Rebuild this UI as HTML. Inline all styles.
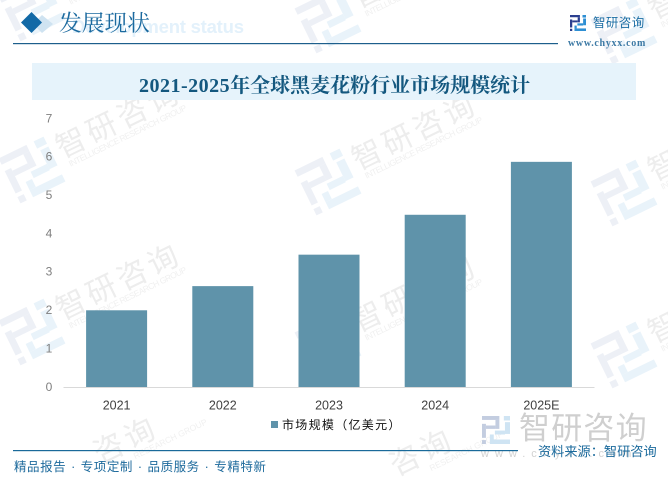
<!DOCTYPE html>
<html lang="zh">
<head>
<meta charset="utf-8">
<title>2021-2025年全球黑麦花粉行业市场规模统计</title>
<style>
html,body{margin:0;padding:0;background:#fff;overflow:hidden}
#page{position:relative;width:668px;height:480px;overflow:hidden;background:#fff;font-family:"Liberation Sans","Noto Sans CJK SC",sans-serif}
#page svg{position:absolute;left:0;top:0}
</style>
</head>
<body>
<div id="page">
<svg id="chart" width="668" height="480" viewBox="0 0 668 480" xmlns="http://www.w3.org/2000/svg">
  <g id="watermarks"></g>

  <g>
    <text x="72" y="33" font-size="18.5" fill="#e3f1fb" font-weight="700" font-family="'Liberation Sans',sans-serif" textLength="172">Development status</text>
    <polygon points="42,15 53,24 42,33 33,24" fill="#cfe3f1"/>
    <polygon points="31.5,12 42,22.5 31.5,33 21,22.5" fill="#1269a6"/>
    <text x="59" y="31" font-size="22.75" fill="#1b6a9f" font-family="'Liberation Serif','Noto Serif CJK SC',serif">发展现状</text>
    <rect x="13" y="43" width="545" height="1.2" fill="#1d5f8c"/>
    <g id="brand-logo"></g>
    <text x="593" y="27" font-size="12.5" fill="#1c6ea4" letter-spacing="0.4">智研咨询</text>
    <text x="568" y="46" font-size="10" fill="#3d7aa5" font-family="'Liberation Serif',serif" font-weight="700" letter-spacing="0.7">www.chyxx.com</text>
  </g>

  <rect x="32" y="63" width="604" height="37" fill="#e6f3fb"/>
  <text x="139" y="92" font-size="20" font-weight="700" fill="#14587f" font-family="'Liberation Serif','Noto Serif CJK SC',serif"><tspan letter-spacing="0.5">2021-2025</tspan>年全球黑麦花粉行业市场规模统计</text>

  <g id="y-axis"></g>
  <g id="bars"></g>
  <g id="x-axis"></g>

  <g>
    <rect x="271" y="421" width="7" height="7" fill="#5f93aa"/>
    <text x="282" y="429" font-size="12" fill="#111" letter-spacing="1.3">市场规模（亿美元）</text>
  </g>

  <g>
    <g id="footer-logo"></g>
    <text x="519" y="439" font-size="31" fill="#cfcfcf" letter-spacing="1.2">智研咨询</text>
    <text x="481" y="457" font-size="11" fill="#d2d2d2" letter-spacing="6">www.chyxx.com</text>
  </g>

  <rect x="13" y="450" width="505" height="1.2" fill="#1a6a9a"/>
  <text x="14" y="471" font-size="12.5" fill="#1d6a9c" letter-spacing="0.55" word-spacing="0.9">精品报告 · 专项定制 · 品质服务 · 专精特新</text>
  <text x="538" y="456" font-size="13.2" fill="#1b6a9c">资料来源：智研咨询</text>
</svg>
</div>
<script>
var categories = ['2021', '2022', '2023', '2024', '2025E'];
var seriesValues = [2.0, 2.63, 3.45, 4.49, 5.87];
var yTickLabels = [0, 1, 2, 3, 4, 5, 6, 7];

var NS = 'http://www.w3.org/2000/svg';
var plotLeft = 63.5, plotRight = 594.5, plotBottom = 387, plotTop = 118.5, yMax = 7;
var barWidth = 61;

function yScale(v) { return plotBottom - (v / yMax) * (plotBottom - plotTop); }
function xCenter(i) { return plotLeft + (plotRight - plotLeft) * (i + 0.5) / categories.length; }
function make(tag, attrs, text) {
  var el = document.createElementNS(NS, tag);
  for (var k in attrs) el.setAttribute(k, attrs[k]);
  if (text !== undefined) el.textContent = text;
  return el;
}

var logoLeft = [[0, 0, 62, 14], [48, 14, 14, 32], [14, 34, 34, 12], [0, 28, 14, 50], [0, 86, 14, 14]];
var logoRight = [[78, 0, 22, 16], [82, 22, 18, 42], [46, 52, 36, 14], [28, 84, 72, 16], [28, 66, 14, 18]];
function drawLogo(parent, x, y, size, leftColor, rightColor) {
  var s = size / 100;
  logoLeft.forEach(function (r) {
    parent.appendChild(make('rect', { x: x + r[0] * s, y: y + r[1] * s, width: r[2] * s, height: r[3] * s, fill: leftColor }));
  });
  logoRight.forEach(function (r) {
    parent.appendChild(make('rect', { x: x + r[0] * s, y: y + r[1] * s, width: r[2] * s, height: r[3] * s, fill: rightColor }));
  });
}
drawLogo(document.getElementById('brand-logo'), 570, 15, 16, '#2b3f8f', '#2e8fd3');
drawLogo(document.getElementById('footer-logo'), 482, 416, 28, '#c3cde0', '#cfe4f3');

var yAxis = document.getElementById('y-axis');
yTickLabels.forEach(function (t) {
  var label = make('text', { x: 49, y: yScale(t) + 3.8, 'font-size': 12, fill: '#7f7f7f', 'text-anchor': 'middle' }, t);
  
  
  yAxis.appendChild(label);
});

var barsGroup = document.getElementById('bars');
seriesValues.forEach(function (v, i) {
  var bar = make('rect', { x: xCenter(i) - barWidth / 2, y: yScale(v), width: barWidth, height: plotBottom - yScale(v), fill: '#5f93aa' });
  
  
  barsGroup.appendChild(bar);
});

var xAxis = document.getElementById('x-axis');
var axisLine = make('line', { x1: plotLeft, x2: plotRight, y1: plotBottom + 0.5, y2: plotBottom + 0.5, stroke: '#d9d9d9', 'stroke-width': 1 });


xAxis.appendChild(axisLine);
categories.forEach(function (c, i) {
  var label = make('text', { x: xCenter(i), y: 409.5, 'font-size': 12.5, fill: '#404040', 'text-anchor': 'middle' }, c);
  
  
  xAxis.appendChild(label);
});

var wmLayer = document.getElementById('watermarks');
[[32, 8], [328, 20], [624, 31], [32, 170], [328, 182], [624, 193], [32, 332], [328, 344], [624, 355]].forEach(function (p) {
  var g = make('g', { transform: 'translate(' + p[0] + ' ' + p[1] + ') rotate(-26)' });
  
  
  drawLogo(g, -25, -25, 50, '#edf0f6', '#e9f3fa');
  g.appendChild(make('text', { x: 32, y: 3, 'font-size': 30, fill: '#ededed', 'letter-spacing': 4 }, '智研咨询'));
  g.appendChild(make('text', { x: 36, y: 14, 'font-size': 8.5, fill: '#f0f0f0', textLength: 130 }, 'INTELLIGENCE RESEARCH GROUP'));
  wmLayer.appendChild(g);
});
[[32, 494], [328, 506]].forEach(function (p) {
  var g = make('g', { transform: 'translate(' + p[0] + ' ' + p[1] + ') rotate(-26)' });
  
  
  g.appendChild(make('text', { x: 74, y: 3, 'font-size': 30, fill: '#ededed', 'letter-spacing': 4 }, '咨询'));
  g.appendChild(make('text', { x: 108, y: 14, 'font-size': 8.5, fill: '#f0f0f0' }, 'RESEARCH GROUP'));
  wmLayer.appendChild(g);
});
</script>
</body>
</html>
